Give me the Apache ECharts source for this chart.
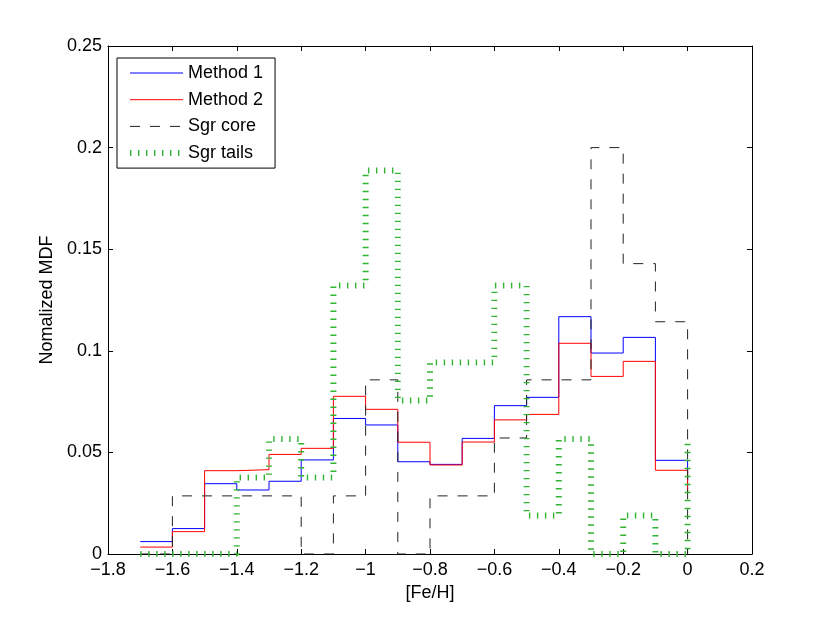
<!DOCTYPE html>
<html>
<head>
<meta charset="utf-8">
<script src="https://cdn.jsdelivr.net/npm/echarts@6/dist/echarts.min.js"></script>
<style>
html,body{margin:0;padding:0;background:#fff;}
#chart{width:830px;height:624px;}
</style>
</head>
<body>
<div id="chart"></div>
<script>
// Bin left edges ([Fe/H]) – MATLAB stairs style: value holds until the next edge
var feH = [-1.7, -1.6, -1.5, -1.4, -1.3, -1.2, -1.1, -1.0, -0.9, -0.8, -0.7, -0.6, -0.5, -0.4, -0.3, -0.2, -0.1, 0.0];

var method1 = [0.0061, 0.0125, 0.0346, 0.0315, 0.0358, 0.0463, 0.0667, 0.0635, 0.0454, 0.0441, 0.0569, 0.0730, 0.0771, 0.1168, 0.0989, 0.1066, 0.0461, 0.0320];
var method2 = [0.0034, 0.0110, 0.0410, 0.0415, 0.0490, 0.0520, 0.0776, 0.0712, 0.0550, 0.0438, 0.0551, 0.0660, 0.0687, 0.1037, 0.0874, 0.0948, 0.0412, 0.0300];
var sgrCore = [0, 0.0286, 0.0286, 0.0286, 0.0286, 0, 0.0286, 0.0857, 0, 0.0286, 0.0286, 0.0571, 0.0857, 0.0857, 0.2000, 0.1429, 0.1143, 0];
var sgrTails = [0, 0, 0, 0.0377, 0.0566, 0.0377, 0.1321, 0.1887, 0.0755, 0.0943, 0.0943, 0.1321, 0.0189, 0.0566, 0, 0.0189, 0, 0.0566];

var seriesNames = ['Method 1', 'Method 2', 'Sgr core', 'Sgr tails'];
var xTicks = [-1.8, -1.6, -1.4, -1.2, -1, -0.8, -0.6, -0.4, -0.2, 0, 0.2];
var yTicks = [0, 0.05, 0.1, 0.15, 0.2, 0.25];

function pairs(xs, ys) {
  return xs.map(function (x, i) { return [x, ys[i]]; });
}
function fmt(v) {
  var s = String(Math.round(v * 1000) / 1000);
  return s.replace('-', '\u2212');
}

var FONT = 'Liberation Sans, Arial, Helvetica, sans-serif';
var chart = echarts.init(document.getElementById('chart'), null, {renderer: 'canvas'});

function axisCommon() {
  return {
    axisLine: {show: true, onZero: false, lineStyle: {color: '#000', width: 1}},
    axisTick: {show: true, inside: true, length: 5, lineStyle: {color: '#000', width: 1}},
    splitLine: {show: false}
  };
}

var BLUE = '#0000ff', RED = '#ff0000', BLACK = '#222222', GREEN = '#33b333';
var blueStyle = {color: BLUE, width: 1};
var redStyle = {color: RED, width: 1};
var coreStyle = {color: BLACK, width: 1, type: [10, 10]};
var tailsStyle = {color: GREEN, width: 6, type: [1.4, 6.6]};

var option = {
  animation: false,
  backgroundColor: '#fff',
  textStyle: {fontFamily: FONT},
  grid: {left: 108, right: 78, top: 46, bottom: 70, containLabel: false},
  legend: {
    data: [
      {name: seriesNames[0], lineStyle: blueStyle},
      {name: seriesNames[1], lineStyle: redStyle},
      {name: seriesNames[2], lineStyle: coreStyle},
      {name: seriesNames[3], lineStyle: tailsStyle}
    ],
    orient: 'vertical',
    left: 117,
    top: 58,
    backgroundColor: '#fff',
    borderColor: '#000',
    borderWidth: 1,
    borderRadius: 0,
    padding: [5, 12, 5, 10],
    itemWidth: 53,
    itemHeight: 14,
    itemGap: 6.7,
    itemStyle: {opacity: 0, color: 'rgba(0,0,0,0)', borderWidth: 0},
    textStyle: {fontFamily: FONT, fontSize: 18, color: '#000', lineHeight: 20}
  },
  xAxis: [
    Object.assign({
      type: 'value', min: xTicks[0], max: xTicks[xTicks.length - 1], interval: 0.2,
      position: 'bottom',
      name: '[Fe/H]', nameLocation: 'middle', nameGap: 30,
      nameTextStyle: {fontFamily: FONT, fontSize: 18, color: '#000'},
      axisLabel: {fontFamily: FONT, fontSize: 18, color: '#000', margin: 7, formatter: fmt}
    }, axisCommon()),
    Object.assign({
      type: 'value', min: xTicks[0], max: xTicks[xTicks.length - 1], interval: 0.2,
      position: 'top', axisLabel: {show: false}
    }, axisCommon())
  ],
  yAxis: [
    Object.assign({
      type: 'value', min: yTicks[0], max: yTicks[yTicks.length - 1], interval: 0.05,
      position: 'left',
      name: 'Nomalized MDF', nameLocation: 'middle', nameGap: 52,
      nameTextStyle: {fontFamily: FONT, fontSize: 18, color: '#000'},
      axisLabel: {fontFamily: FONT, fontSize: 18, color: '#000', margin: 6, formatter: fmt}
    }, axisCommon()),
    Object.assign({
      type: 'value', min: yTicks[0], max: yTicks[yTicks.length - 1], interval: 0.05,
      position: 'right', axisLabel: {show: false}
    }, axisCommon())
  ],
  series: [
    {
      name: seriesNames[0], type: 'line', step: 'end', symbol: 'none',
      data: pairs(feH, method1),
      lineStyle: blueStyle,
      itemStyle: {color: BLUE}, z: 2
    },
    {
      name: seriesNames[1], type: 'line', step: 'end', symbol: 'none',
      data: pairs(feH, method2),
      lineStyle: redStyle,
      itemStyle: {color: RED}, z: 3
    },
    {
      name: seriesNames[2], type: 'line', step: 'end', symbol: 'none',
      data: pairs(feH, sgrCore),
      lineStyle: coreStyle,
      itemStyle: {color: BLACK}, z: 4
    },
    {
      name: seriesNames[3], type: 'line', step: 'end', symbol: 'none',
      data: pairs(feH, sgrTails),
      lineStyle: tailsStyle,
      itemStyle: {color: GREEN}, z: 5
    }
  ]
};
chart.setOption(option);
</script>
</body>
</html>
